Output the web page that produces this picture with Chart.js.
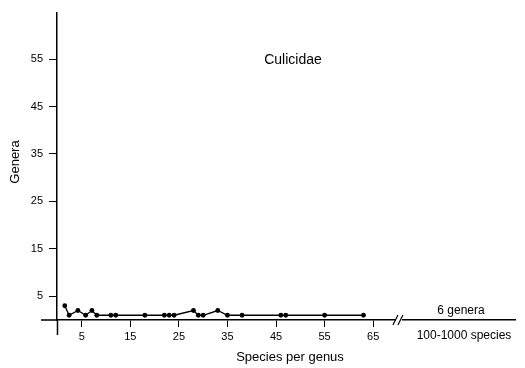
<!DOCTYPE html>
<html>
<head>
<meta charset="utf-8">
<script src="https://cdn.jsdelivr.net/npm/chart.js@4"></script>
<style>
  html, body { margin: 0; padding: 0; background: #fff; }
  #wrap { width: 525px; height: 368px; }
</style>
</head>
<body>
<div id="wrap"><canvas id="generaChart"></canvas></div>
<script>
// species per genus (x) and number of genera (y)
const speciesPerGenus = [1.5, 2.4, 4.2, 5.8, 7.1, 8.1, 11, 12, 18, 22, 23, 24, 28, 29, 30, 33, 35, 38, 46, 47, 55, 63];
const generaCount     = [3,   1,   2,   1,   2,   1,   1,  1,  1,  1,  1,  1,  2,  1,  1,  2,  1,  1,  1,  1,  1,  1];

const xTicks = [5, 15, 25, 35, 45, 55, 65];
const yTicks = [5, 15, 25, 35, 45, 55];

// where the axis is broken, and the group beyond the break
const breakAt = 70.3;
const bigGroupLabel = '6 genera';
const bigGroupRange = '100-1000 species';

const FONT = "'Liberation Sans', Arial, Helvetica, sans-serif";

// extra text, axis stubs past the origin, axis break
const annotations = {
    id: 'annotations',
    afterDraw(chart) {
        const ctx = chart.ctx;
        const area = chart.chartArea;
        const xs = chart.scales.x;
        const ys = chart.scales.y;
        const y0 = ys.getPixelForValue(0);
        const x0 = xs.getPixelForValue(0);
        ctx.save();

        // the axes run a little past each other at the origin
        ctx.strokeStyle = '#000';
        ctx.lineWidth = 1.5;
        ctx.beginPath();
        ctx.moveTo(area.left - 16, y0);
        ctx.lineTo(area.left, y0);
        ctx.moveTo(x0, area.bottom);
        ctx.lineTo(x0, area.bottom + 15);
        ctx.stroke();

        ctx.fillStyle = '#000';
        ctx.textBaseline = 'middle';
        ctx.textAlign = 'center';

        ctx.font = '14px ' + FONT;
        ctx.fillText('Culicidae', 293, 60);

        ctx.font = '13px ' + FONT;
        ctx.fillText('Species per genus', 290, 357);

        ctx.save();
        ctx.translate(15, 162);
        ctx.rotate(-Math.PI / 2);
        ctx.fillText('Genera', 0, 0);
        ctx.restore();

        ctx.font = '12px ' + FONT;
        ctx.fillText(bigGroupLabel, 461, 311);
        ctx.fillText(bigGroupRange, 464, 336);

        // axis break marks
        const bx = xs.getPixelForValue(breakAt);
        ctx.fillStyle = '#fff';
        ctx.fillRect(bx - 3, y0 - 2, 6, 4);
        ctx.lineWidth = 1.2;
        ctx.beginPath();
        ctx.moveTo(bx - 6, y0 + 5);
        ctx.lineTo(bx - 1, y0 - 5);
        ctx.moveTo(bx - 1, y0 + 5);
        ctx.lineTo(bx + 4, y0 - 5);
        ctx.stroke();
        ctx.restore();
    }
};

new Chart(document.getElementById('generaChart'), {
    type: 'scatter',
    data: {
        datasets: [{
            data: speciesPerGenus.map((s, i) => ({ x: s, y: generaCount[i] })),
            showLine: true,
            borderColor: '#000',
            borderWidth: 1.3,
            backgroundColor: '#000',
            pointRadius: 2.4,
            pointBorderWidth: 0
        }]
    },
    options: {
        responsive: true,
        maintainAspectRatio: false,
        animation: false,
        layout: {
            padding: { left: 0, right: 10, top: 5, bottom: 0 }
        },
        scales: {
            x: {
                type: 'linear',
                position: 'bottom',
                min: -0.1,
                max: 94.2,
                afterBuildTicks: function(scale) {
                    scale.ticks = xTicks.map(v => ({ value: v }));
                },
                afterFit: function(scale) {
                    scale.height = 48;
                },
                grid: {
                    display: true,
                    drawOnChartArea: false,
                    tickLength: 7,
                    color: '#000'
                },
                border: { display: true, color: '#000', width: 1.5 },
                ticks: {
                    color: '#000',
                    padding: 3,
                    maxRotation: 0,
                    font: { family: FONT, size: 11 }
                }
            },
            y: {
                type: 'linear',
                position: 'left',
                min: 0,
                max: 64.8,
                afterBuildTicks: function(scale) {
                    scale.ticks = yTicks.map(v => ({ value: v }));
                },
                afterFit: function(scale) {
                    scale.width = 57;
                },
                grid: {
                    display: true,
                    drawOnChartArea: false,
                    tickLength: 8,
                    color: '#000'
                },
                border: { display: true, color: '#000', width: 1.5 },
                ticks: {
                    color: '#000',
                    padding: 6,
                    font: { family: FONT, size: 11 }
                }
            }
        },
        plugins: {
            legend: { display: false },
            tooltip: { enabled: false }
        }
    },
    plugins: [annotations]
});
</script>
</body>
</html>
